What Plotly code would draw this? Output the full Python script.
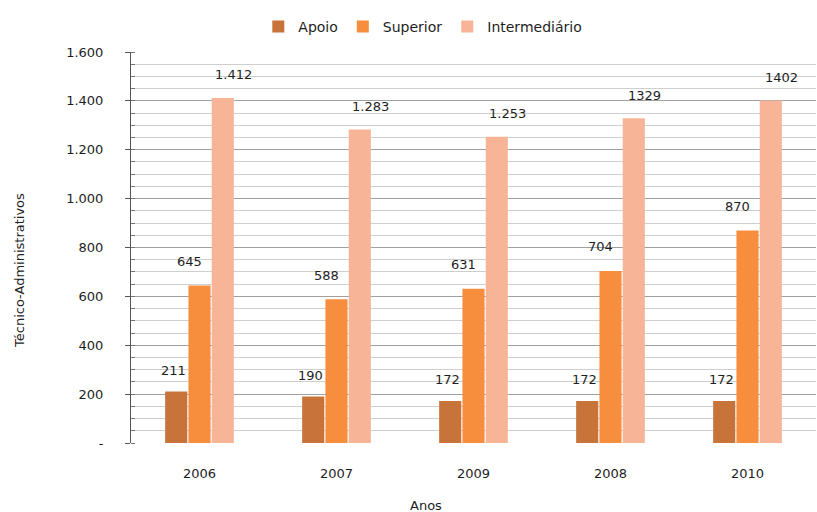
import plotly.graph_objects as go

anos = ["2006", "2007", "2009", "2008", "2010"]
apoio = [211, 190, 172, 172, 172]
superior = [645, 588, 631, 704, 870]
intermediario = [1412, 1283, 1253, 1329, 1402]
apoio_lbl = ["211", "190", "172", "172", "172"]
superior_lbl = ["645", "588", "631", "704", "870"]
intermediario_lbl = ["1.412", "1.283", "1.253", "1329", "1402"]
ytick_vals = [0, 200, 400, 600, 800, 1000, 1200, 1400, 1600]
ytick_text = ["-", "200", "400", "600", "800", "1.000", "1.200", "1.400", "1.600"]

FONT = "DejaVu Sans"
FS = 13
TXT = "#1e1e1e"
series = [
    ("Apoio", apoio, apoio_lbl, "#C8733A", -3, 21),
    ("Superior", superior, superior_lbl, "#F68E3E", -10, 24),
    ("Intermediário", intermediario, intermediario_lbl, "#F8B497", 11, 23),
]

fig = go.Figure()
annotations = []
offsets = [-23, 0, 23]
for i, (name, vals, lbls, col, xs, ys) in enumerate(series):
    fig.add_trace(go.Bar(name=name, x=anos, y=vals, marker=dict(color=col, line=dict(width=0))))
    for j, (v, t) in enumerate(zip(vals, lbls)):
        annotations.append(dict(x=j, y=v, xref="x", yref="y", text=t, showarrow=False,
                                xshift=offsets[i] + xs, yshift=ys,
                                font=dict(family=FONT, size=FS, color=TXT)))

annotations.append(dict(text="Anos", xref="paper", yref="paper", x=0.43, y=-0.161,
                        xanchor="center", yanchor="middle",
                        showarrow=False, font=dict(family=FONT, size=FS, color=TXT)))
annotations.append(dict(text="Técnico-Administrativos", xref="paper", yref="paper",
                        x=-0.162, y=0.44, xanchor="center", yanchor="middle",
                        textangle=-90, showarrow=False,
                        font=dict(family=FONT, size=FS, color=TXT)))

fig.update_layout(
    width=817, height=512,
    margin=dict(l=131, r=1, t=52, b=69, autoexpand=False),
    paper_bgcolor="white", plot_bgcolor="white",
    barmode="group", bargap=0.49, bargroupgap=0.05,
    font=dict(family=FONT, size=FS, color=TXT),
    legend=dict(orientation="h", x=0.426, xanchor="center", y=1.064, yanchor="middle",
                font=dict(size=FS + 1), traceorder="normal", itemwidth=30),
    annotations=annotations,
    xaxis=dict(type="category", range=[-0.5, len(anos) - 0.5],
               showgrid=False, showline=False, ticks="", tickfont=dict(size=FS),
               ticklabelstandoff=21, automargin=False),
    yaxis=dict(range=[0, 1600], tickvals=ytick_vals, ticktext=ytick_text, automargin=False,
               showgrid=True, gridcolor="#a0a0a0", gridwidth=1,
               showline=True, linecolor="#555", linewidth=1,
               ticks="outside", ticklen=5, tickcolor="#555", ticklabelstandoff=19,
               tickfont=dict(size=FS),
               minor=dict(dtick=50, showgrid=True, gridcolor="#cfcfcf", gridwidth=1,
                          ticks="inside", ticklen=4, tickcolor="#777"),
               zeroline=False),
)

fig.write_html("out.html", post_script="document.body.style.margin='0';",
               config={"displayModeBar": False})
